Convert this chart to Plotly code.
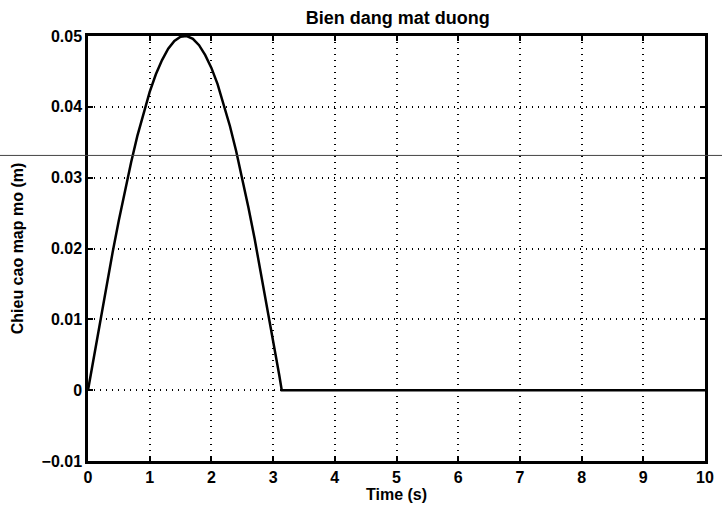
import plotly.graph_objects as go

# Data (time in s, height in m)
time_s = [0.0, 0.1, 0.2, 0.3, 0.4, 0.5, 0.6, 0.7, 0.8, 0.9, 1.0, 1.1, 1.2, 1.3, 1.4, 1.5,
          1.6, 1.7, 1.8, 1.9, 2.0, 2.1, 2.2, 2.3, 2.4, 2.5, 2.6, 2.7, 2.8, 2.9, 3.0, 3.1, 3.14, 10.0]
height_m = [0.0, 0.0050, 0.0099, 0.0148, 0.0195, 0.0240, 0.0282, 0.0322, 0.0359, 0.0392, 0.0421,
            0.0446, 0.0466, 0.0482, 0.0493, 0.0499, 0.0500, 0.0496, 0.0487, 0.0473, 0.0455,
            0.0432, 0.0404, 0.0373, 0.0338, 0.0299, 0.0258, 0.0214, 0.0167, 0.0120, 0.0071, 0.0021,
            0.0, 0.0]

x_ticks = [0, 1, 2, 3, 4, 5, 6, 7, 8, 9, 10]
y_ticks = [-0.01, 0.0, 0.01, 0.02, 0.03, 0.04, 0.05]
y_tick_labels = ["\u22120.01", "0", "0.01", "0.02", "0.03", "0.04", "0.05"]

title_text = "Bien dang mat duong"
x_title = "Time (s)"
y_title = "Chieu cao map mo (m)"

FONT = "Liberation Sans, Arial, sans-serif"

fig = go.Figure()
fig.add_trace(go.Scatter(
    x=time_s, y=height_m, mode="lines",
    line=dict(color="black", width=2.5),
    showlegend=False, hoverinfo="skip",
))

axis_common = dict(
    showgrid=True, gridcolor="black", griddash="1px,5px", gridwidth=1.5,
    showline=True, linecolor="black", linewidth=2.5, mirror="ticks",
    ticks="inside", ticklen=5, tickcolor="black", tickwidth=1.5,
    zeroline=False,
    tickfont=dict(family=FONT, size=16, color="black", weight="bold"),
)

fig.update_layout(
    width=722, height=509,
    margin=dict(l=88, r=8, t=36, b=48),
    paper_bgcolor="white", plot_bgcolor="white",
    title=dict(text=title_text, x=0.551, xanchor="center", y=0.966, yanchor="middle",
               font=dict(family=FONT, size=18, color="black", weight="bold")),
    xaxis=dict(range=[0, 10], tickvals=x_ticks, ticktext=[str(v) for v in x_ticks],
               title=dict(text=x_title, standoff=0,
                          font=dict(family=FONT, size=16, color="black", weight="bold")),
               **axis_common),
    yaxis=dict(range=[-0.01, 0.05], tickvals=y_ticks, ticktext=y_tick_labels,
               title=dict(text=y_title, standoff=14,
                          font=dict(family=FONT, size=16, color="black", weight="bold")),
               **axis_common),
    shapes=[dict(type="line", xref="paper", yref="y domain",
                 x0=-0.2, x1=1.1, y0=0.719, y1=0.719,
                 line=dict(color="#444444", width=1), layer="above")],
)

fig.write_html("out.html")
